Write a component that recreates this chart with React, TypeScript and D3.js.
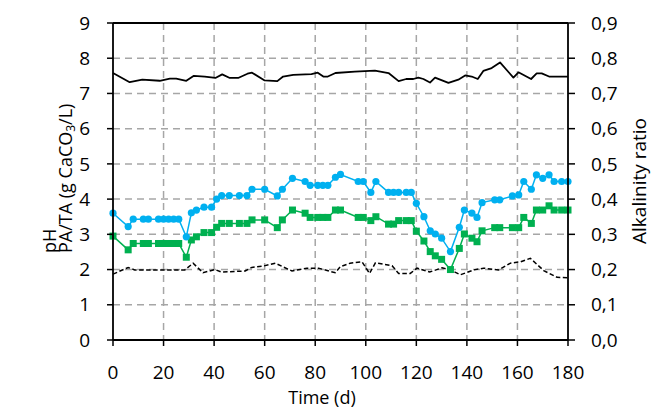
import React from 'react'
import * as d3 from 'd3'

// Sampling days shared by PA and TA
const days = [0, 6, 8, 12, 14, 18, 20, 22, 24, 26, 29, 31, 33, 36, 39, 41, 43, 46, 50, 53, 55, 60, 65, 67, 71, 76, 78, 81, 83, 85, 88, 90, 97, 99, 102, 104, 109, 111, 113, 116, 118, 120, 123, 125.5, 127.5, 130, 133.5, 137, 139, 142, 144, 146, 151, 153, 158, 160.5, 162.5, 165.5, 167.5, 170, 172.5, 174.5, 177.5, 180]
const taValues = [3.6, 3.22, 3.43, 3.43, 3.43, 3.43, 3.43, 3.43, 3.43, 3.43, 2.93, 3.61, 3.69, 3.77, 3.77, 4.0, 4.1, 4.1, 4.1, 4.1, 4.28, 4.28, 4.09, 4.28, 4.59, 4.5, 4.39, 4.39, 4.39, 4.39, 4.62, 4.7, 4.5, 4.5, 4.19, 4.5, 4.19, 4.19, 4.19, 4.19, 4.19, 3.88, 3.5, 3.1, 3.01, 2.89, 2.51, 3.2, 3.69, 3.6, 3.48, 3.9, 3.98, 3.98, 4.09, 4.12, 4.5, 4.28, 4.69, 4.59, 4.69, 4.5, 4.5, 4.5]
const paValues = [2.95, 2.56, 2.74, 2.74, 2.74, 2.74, 2.74, 2.74, 2.74, 2.74, 2.35, 2.84, 2.93, 3.05, 3.05, 3.2, 3.31, 3.31, 3.31, 3.31, 3.41, 3.41, 3.19, 3.41, 3.69, 3.6, 3.48, 3.48, 3.48, 3.48, 3.69, 3.69, 3.48, 3.48, 3.39, 3.5, 3.29, 3.29, 3.39, 3.39, 3.39, 3.09, 2.81, 2.51, 2.39, 2.29, 2.0, 2.6, 3.01, 2.89, 2.79, 3.1, 3.19, 3.19, 3.19, 3.19, 3.48, 3.31, 3.69, 3.69, 3.81, 3.69, 3.69, 3.69]

// pH series
const phDays = [0, 6.6, 11.6, 18.5, 22.5, 25, 29, 32, 36.3, 40.5, 43.2, 46.2, 49.5, 53.2, 55, 60, 65, 67.3, 71.3, 78.5, 81, 83.2, 85, 88, 95.7, 103.6, 109, 113, 116, 118.8, 120.8, 122.8, 125.4, 127.4, 132.7, 136.6, 139.3, 141.9, 144.3, 146.5, 149.8, 153.1, 158.4, 160.4, 165.4, 167.6, 169.6, 172.5, 180]
const phValues = [7.58, 7.32, 7.39, 7.36, 7.42, 7.42, 7.36, 7.5, 7.48, 7.44, 7.54, 7.44, 7.44, 7.56, 7.59, 7.37, 7.35, 7.48, 7.53, 7.55, 7.59, 7.48, 7.48, 7.58, 7.62, 7.65, 7.58, 7.35, 7.41, 7.41, 7.45, 7.41, 7.31, 7.45, 7.3, 7.39, 7.51, 7.48, 7.41, 7.64, 7.72, 7.88, 7.45, 7.6, 7.41, 7.57, 7.57, 7.48, 7.48]

// Alkalinity ratio (right axis)
const ratioDays = [0, 6, 8.6, 28.4, 31.7, 35.6, 40.3, 42.9, 52.3, 54.9, 59.5, 64.2, 70.8, 76.7, 81.3, 87.9, 89.9, 93.8, 98.5, 101.5, 103.8, 110.4, 113, 117.6, 120.3, 125.3, 130.2, 133.5, 137.4, 142.7, 146.6, 152.6, 157.2, 161.2, 165.1, 170.4, 175.7, 180]
const ratioValues = [0.187, 0.206, 0.199, 0.199, 0.218, 0.191, 0.2, 0.193, 0.196, 0.206, 0.21, 0.218, 0.196, 0.204, 0.204, 0.191, 0.208, 0.218, 0.222, 0.189, 0.219, 0.211, 0.189, 0.189, 0.204, 0.193, 0.205, 0.199, 0.185, 0.199, 0.204, 0.199, 0.218, 0.222, 0.232, 0.197, 0.178, 0.177]

const xTicks = [0, 20, 40, 60, 80, 100, 120, 140, 160, 180]
const yTicks = [0, 1, 2, 3, 4, 5, 6, 7, 8, 9]
const y2Ticks = [0, 0.1, 0.2, 0.3, 0.4, 0.5, 0.6, 0.7, 0.8, 0.9]

const W = 654
const H = 408
const FONT = '"Open Sans", sans-serif'

const App: React.FC = () => {
  const margin = { top: 23, right: 86, bottom: 68, left: 113 }
  const x = d3.scaleLinear().domain([0, 180]).range([margin.left, W - margin.right])
  const y = d3.scaleLinear().domain([0, 9]).range([H - margin.bottom, margin.top])
  const y2 = d3.scaleLinear().domain([0, 0.9]).range([H - margin.bottom, margin.top])

  const line = d3.line<[number, number]>().x(d => x(d[0])).y(d => y(d[1]))
  const line2 = d3.line<[number, number]>().x(d => x(d[0])).y(d => y2(d[1]))

  const taPts = days.map((d, i) => [d, taValues[i]] as [number, number])
  const paPts = days.map((d, i) => [d, paValues[i]] as [number, number])
  const phPts = phDays.map((d, i) => [d, phValues[i]] as [number, number])
  const ratioPts = ratioDays.map((d, i) => [d, ratioValues[i]] as [number, number])

  const x0 = x(0), x1 = x(180), yb = y(0), yt = y(9)
  const fmt = d3.format('.1f')

  return (
    <svg width={W} height={H} style={{ position: 'absolute', left: 0, top: 0, background: '#fff' }} fontFamily={FONT}>
      {/* grid */}
      {yTicks.slice(1, -1).map(t => (
        <line key={'gy' + t} x1={x0} x2={x1} y1={y(t)} y2={y(t)} stroke="#a6a6a6" strokeWidth={1.5} strokeDasharray="7 5" />
      ))}
      {xTicks.slice(1, -1).map(t => (
        <line key={'gx' + t} x1={x(t)} x2={x(t)} y1={yt} y2={yb} stroke="#a6a6a6" strokeWidth={1.5} strokeDasharray="7 5" />
      ))}

      {/* series */}
      <path d={line2(ratioPts) ?? ''} fill="none" stroke="#000" strokeWidth={1.5} strokeDasharray="4.5 2.5" />
      <path d={line(phPts) ?? ''} fill="none" stroke="#000" strokeWidth={1.8} strokeLinejoin="round" />
      <path d={line(paPts) ?? ''} fill="none" stroke="#00b050" strokeWidth={1.5} />
      {paPts.map((p, i) => (
        <rect key={'pa' + i} x={x(p[0]) - 3.5} y={y(p[1]) - 3.5} width={7} height={7} fill="#00b050" />
      ))}
      <path d={line(taPts) ?? ''} fill="none" stroke="#00b0f0" strokeWidth={1.5} />
      {taPts.map((p, i) => (
        <circle key={'ta' + i} cx={x(p[0])} cy={y(p[1])} r={3.6} fill="#00b0f0" />
      ))}

      {/* axes frame */}
      <line x1={x0} x2={x1} y1={yt} y2={yt} stroke="#000" strokeWidth={1.8} />
      <line x1={x0} x2={x1} y1={yb} y2={yb} stroke="#000" strokeWidth={1.8} />
      <line x1={x0} x2={x0} y1={yt} y2={yb} stroke="#000" strokeWidth={1.8} />
      <line x1={x1} x2={x1} y1={yt} y2={yb} stroke="#000" strokeWidth={1.8} />

      {/* left ticks */}
      {yTicks.map(t => (
        <g key={'yl' + t}>
          <line x1={x0 - 6} x2={x0} y1={y(t)} y2={y(t)} stroke="#000" strokeWidth={1.5} />
          <text x={x0 - 23} y={y(t)} dy="0.35em" textAnchor="end" fontSize={19} fill="#000">{t}</text>
        </g>
      ))}
      {/* right ticks */}
      {y2Ticks.map(t => (
        <g key={'yr' + t}>
          <line x1={x1} x2={x1 + 7} y1={y2(t)} y2={y2(t)} stroke="#000" strokeWidth={1.5} />
          <text x={x1 + 23} y={y2(t)} dy="0.35em" textAnchor="start" fontSize={19} fill="#000">{fmt(t).replace('.', ',')}</text>
        </g>
      ))}
      {/* bottom ticks */}
      {xTicks.map(t => (
        <g key={'xb' + t}>
          <line x1={x(t)} x2={x(t)} y1={yb} y2={yb + 6} stroke="#000" strokeWidth={1.5} />
          <text x={x(t)} y={379} textAnchor="middle" fontSize={19} fill="#000">{t}</text>
        </g>
      ))}

      {/* titles */}
      <text x={W / 2 - 5} y={404} textAnchor="middle" fontSize={18} fill="#000">Time (d)</text>
      <text transform="translate(56,253) rotate(-90)" fontSize={18} fill="#000">pH</text>
      <text transform="translate(72,253) rotate(-90)" fontSize={18} fill="#000">
        PA/TA (g CaCO<tspan fontSize={12} dy={3}>3</tspan><tspan dy={-3}>/L)</tspan>
      </text>
      <text transform="translate(646,181) rotate(-90)" textAnchor="middle" fontSize={19} fill="#000">Alkalinity ratio</text>
    </svg>
  )
}

export default App
